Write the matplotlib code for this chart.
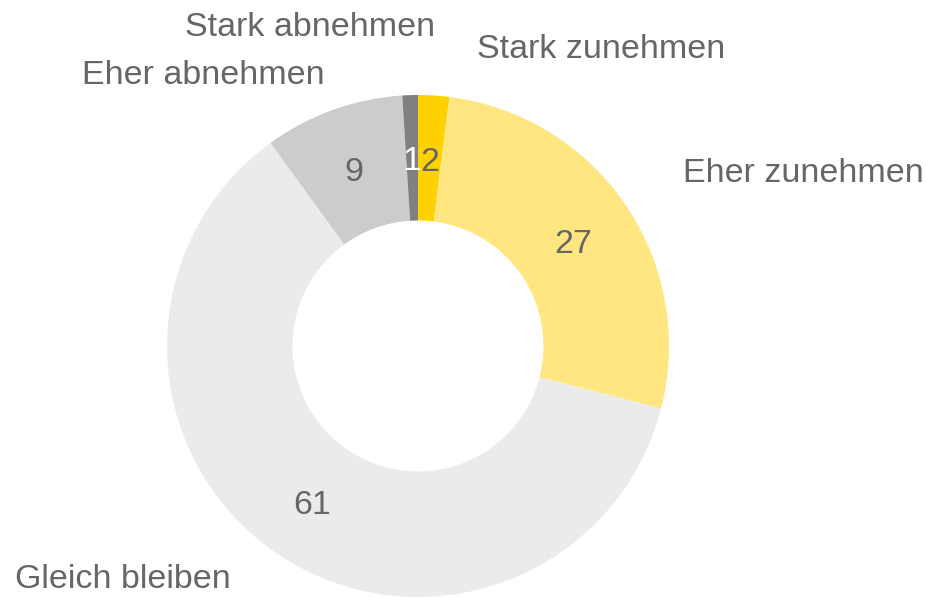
import matplotlib
matplotlib.use("Agg")
import matplotlib.pyplot as plt

plt.rcParams['font.family'] = ['Liberation Sans', 'DejaVu Sans']

categories = ['Stark zunehmen', 'Eher zunehmen', 'Gleich bleiben', 'Eher abnehmen', 'Stark abnehmen']
values = [2, 27, 61, 9, 1]
colors = ['#FFD100', '#FFE680', '#EBEBEB', '#CCCCCC', '#808080']
value_colors = ['#666666', '#666666', '#666666', '#666666', '#FFFFFF']

# label anchors in pixels (x, y from top), layout only
label_pos = {
    'Stark zunehmen': (477, 49, 'left'),
    'Eher zunehmen': (683, 174, 'left'),
    'Gleich bleiben': (15, 579, 'left'),
    'Eher abnehmen': (82, 75, 'left'),
    'Stark abnehmen': (185, 27, 'left'),
}

W, H = 926, 598
fig = plt.figure(figsize=(W / 100, H / 100), dpi=100)
ax = fig.add_axes([0, 0, 1, 1])

R = 251
cx, cy = 418, H - 346

wedges, texts, autotexts = ax.pie(
    values, colors=colors, startangle=90, counterclock=False,
    radius=R, center=(cx, cy), frame=True,
    autopct=lambda p: '%d' % round(p), pctdistance=0.75,
    wedgeprops=dict(width=R * 0.5, linewidth=0),
    textprops=dict(fontsize=24.5, color='#666666'))
ax.set_xlim(0, W)
ax.set_ylim(0, H)
ax.axis('off')

for t, c in zip(autotexts, value_colors):
    t.set_color(c)
    x, y = t.get_position()
    t.set_position((x, y - 4))

for name in categories:
    x, y, ha = label_pos[name]
    ax.text(x, H - y, name, fontsize=24.5, color='#666666', ha=ha, va='center')

fig.savefig('out.png', dpi=100)
